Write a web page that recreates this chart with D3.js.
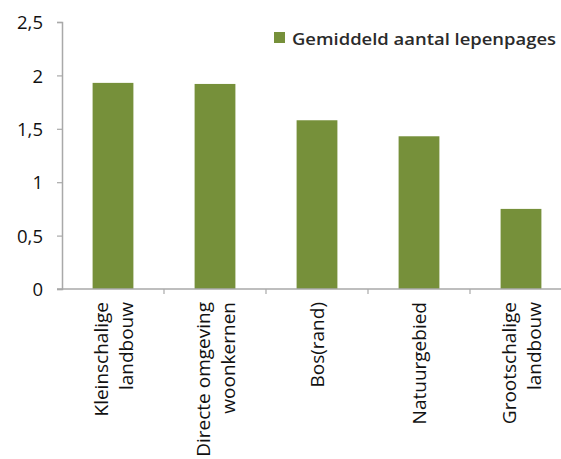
<!DOCTYPE html>
<html>
<head>
<meta charset="utf-8">
<script src="https://cdn.jsdelivr.net/npm/d3@7"></script>
<style>
  html, body { margin: 0; padding: 0; background: #fff; }
  svg { display: block; }
  text { font-family: "Open Sans", "Noto Sans", sans-serif; }
</style>
</head>
<body>
<svg id="chart" width="561" height="459"></svg>
<script>
// Average number of lepenpages per landscape type
const categories = [
  ["Kleinschalige", "landbouw"],
  ["Directe omgeving", "woonkernen"],
  ["Bos(rand)"],
  ["Natuurgebied"],
  ["Grootschalige", "landbouw"]
];
const values = [1.93, 1.92, 1.58, 1.43, 0.75];
const yTicks = [0, 0.5, 1, 1.5, 2, 2.5];
const seriesName = "Gemiddeld aantal lepenpages";

const svg = d3.select("#chart");
const barColor = "#76903a";
const axisColor = "#a9a9a9";
const textColor = "#111";

const keys = categories.map(c => c.join(" "));

const x = d3.scaleBand()
  .domain(keys)
  .range([62, 572])
  .paddingInner(0.6)
  .paddingOuter(0.3);

const y = d3.scaleLinear()
  .domain([0, 2.5])
  .range([289, 22]);

// Bars
svg.append("g")
  .selectAll("rect")
  .data(values)
  .join("rect")
  .attr("x", (d, i) => x(keys[i]))
  .attr("y", d => y(d))
  .attr("width", x.bandwidth())
  .attr("height", d => y(0) - y(d))
  .attr("fill", barColor);

// Y axis
const fmt = d => d3.format("")(d).replace(".", ",");
const yAxis = svg.append("g")
  .attr("transform", "translate(62,0)")
  .call(d3.axisLeft(y).tickValues(yTicks).tickFormat(fmt).tickSize(5).tickPadding(14));
yAxis.select(".domain").attr("stroke", axisColor).attr("stroke-width", 1.5);
yAxis.selectAll(".tick line").attr("stroke", axisColor).attr("stroke-width", 1.2);
yAxis.selectAll(".tick text")
  .attr("fill", textColor)
  .style("font-size", "18.5px")
  .attr("dy", "0.36em");

// X axis line with ticks on category boundaries
const xAxis = svg.append("g");
const [x0, x1] = x.range();
xAxis.append("line")
  .attr("x1", x0 - 5).attr("x2", x1)
  .attr("y1", y(0)).attr("y2", y(0))
  .attr("stroke", axisColor).attr("stroke-width", 1.5);
xAxis.selectAll("line.tick")
  .data(d3.range(1, keys.length))
  .join("line")
  .attr("class", "tick")
  .attr("x1", i => x0 + i * x.step()).attr("x2", i => x0 + i * x.step())
  .attr("y1", y(0)).attr("y2", y(0) + 5)
  .attr("stroke", axisColor).attr("stroke-width", 1.2);

// Rotated category labels
categories.forEach((lines, i) => {
  const cx = x(keys[i]) + x.bandwidth() / 2;
  const n = lines.length;
  lines.forEach((ln, j) => {
    const off = n === 1 ? 7 : (j === 0 ? -5 : 20);
    svg.append("text")
      .attr("transform", `translate(${cx + off},302) rotate(-90)`)
      .attr("text-anchor", "end")
      .attr("fill", textColor)
      .style("font-size", "19px")
      .text(ln);
  });
});

// Legend
const legend = svg.append("g");
legend.append("rect")
  .attr("x", 274).attr("y", 32)
  .attr("width", 11).attr("height", 11)
  .attr("fill", barColor);
legend.append("text")
  .attr("x", 292).attr("y", 45)
  .attr("fill", "#2b2b2b")
  .style("font-size", "16px")
  .style("font-weight", "600")
  .attr("textLength", 264)
  .attr("lengthAdjust", "spacingAndGlyphs")
  .text(seriesName);
</script>
</body>
</html>
